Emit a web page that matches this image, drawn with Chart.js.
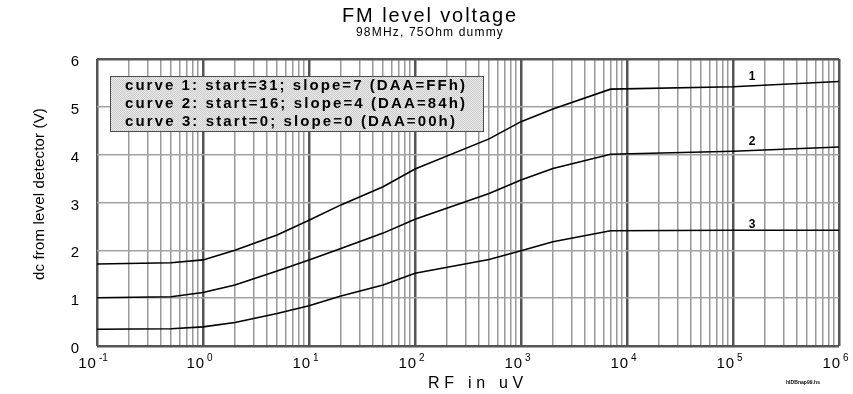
<!DOCTYPE html>
<html>
<head>
<meta charset="utf-8">
<script src="https://cdn.jsdelivr.net/npm/chart.js@4.4.1/dist/chart.umd.min.js"></script>
<style>
  html, body { margin: 0; padding: 0; background: #fff; }
  #wrap { width: 853px; height: 394px; }
</style>
</head>
<body>
<div id="wrap"><canvas id="fmChart" width="853" height="394"></canvas></div>
<script>
// RF input (uV) and detector output (V) for the three DAA settings
const rfInput = [0.1, 0.5, 1, 2, 5, 10, 20, 50, 100, 500, 1000, 2000, 7000, 1e5, 1e6];
const curve1 = [1.715, 1.74, 1.80, 2.00, 2.32, 2.63, 2.95, 3.33, 3.70, 4.33, 4.69, 4.955, 5.37, 5.42, 5.53];
const curve2 = [1.01, 1.03, 1.12, 1.275, 1.57, 1.80, 2.04, 2.36, 2.65, 3.19, 3.47, 3.71, 4.01, 4.07, 4.16];
const curve3 = [0.35, 0.36, 0.40, 0.49, 0.68, 0.84, 1.045, 1.275, 1.52, 1.81, 1.99, 2.18, 2.41, 2.42, 2.42];

const curveNames = ["1", "2", "3"];
const legendLines = [
  "curve 1: start=31; slope=7 (DAA=FFh)",
  "curve 2: start=16; slope=4 (DAA=84h)",
  "curve 3: start=0; slope=0 (DAA=00h)"
];
const xDecades = [-1, 0, 1, 2, 3, 4, 5, 6];
const yTicks = [0, 1, 2, 3, 4, 5, 6];

const FONT = "'Liberation Sans', Arial, sans-serif";

// every 1..9 x 10^k line for the log grid
const logGrid = [];
xDecades.forEach(e => {
  for (let m = 1; m <= 9; m++) {
    if (e === 6 && m > 1) break;
    logGrid.push(+(m * Math.pow(10, e)).toPrecision(3));
  }
});
const isDecade = v => Math.abs(Math.log10(v) - Math.round(Math.log10(v))) < 1e-6;

const toPoints = ys => ys.map((y, i) => ({ x: rfInput[i], y }));

// draw text stretched to a given width with letter spacing
function spacedText(ctx, text, x, y, width, align) {
  ctx.letterSpacing = "0px";
  const w = ctx.measureText(text).width;
  const sp = width ? Math.max(0, (width - w) / text.length) : 0;
  ctx.letterSpacing = sp + "px";
  const total = w + sp * text.length;
  let sx = x;
  if (align === "center") sx = x - total / 2;
  else if (align === "right") sx = x - total;
  ctx.textAlign = "left";
  ctx.fillText(text, sx, y);
  ctx.letterSpacing = "0px";
}

let dotPattern = null;
function getPattern(ctx) {
  if (dotPattern) return dotPattern;
  const c = document.createElement("canvas");
  c.width = 2; c.height = 2;
  const p = c.getContext("2d");
  p.fillStyle = "#c9c9c9"; p.fillRect(0, 0, 2, 2);
  p.fillStyle = "#ececec"; p.fillRect(1, 0, 1, 1); p.fillRect(0, 1, 1, 1);
  dotPattern = ctx.createPattern(c, "repeat");
  return dotPattern;
}

const decorations = {
  id: "decorations",
  afterDatasetsDraw(chart) {
    const { ctx, scales } = chart;
    const xs = scales.x, ys = scales.y;
    ctx.save();
    ctx.fillStyle = "#000";
    ctx.textBaseline = "middle";

    // titles
    ctx.font = "20px " + FONT;
    spacedText(ctx, "FM level voltage", 430, 16, 176, "center");
    ctx.font = "12px " + FONT;
    spacedText(ctx, "98MHz, 75Ohm dummy", 430, 33, 148, "center");

    // legend box
    const bx = 110, by = 76, bw = 374, bh = 56;
    ctx.fillStyle = getPattern(ctx);
    ctx.fillRect(bx, by, bw, bh);
    ctx.strokeStyle = "#4a4a4a";
    ctx.lineWidth = 1;
    ctx.strokeRect(bx + 0.5, by + 0.5, bw - 1, bh - 1);
    ctx.fillStyle = "#000";
    ctx.font = "bold 15px " + FONT;
    legendLines.forEach((t, i) => {
      spacedText(ctx, t, 125, 86 + i * 18, 342 - (i === 2 ? 10 : 0), "left");
    });

    // y tick labels
    ctx.font = "15px " + FONT;
    yTicks.forEach(v => {
      spacedText(ctx, String(v), 75, ys.getPixelForValue(v) + 3, 0, "center");
    });

    // x tick labels, 10 with raised exponent
    xDecades.forEach(e => {
      const px = xs.getPixelForValue(Math.pow(10, e));
      ctx.font = "15px " + FONT;
      ctx.letterSpacing = "1px";
      const base = "10";
      const bw2 = ctx.measureText(base).width;
      ctx.font = "10px " + FONT;
      const exp = String(e);
      const ew = ctx.measureText(exp).width;
      const start = px - (bw2 + 2 + ew) / 2 - 3;
      ctx.font = "15px " + FONT;
      ctx.textAlign = "left";
      ctx.fillText(base, start, 364);
      ctx.font = "10px " + FONT;
      ctx.letterSpacing = "0px";
      ctx.fillText(exp, start + bw2 + 2, 358);
    });

    // axis titles
    ctx.font = "16px " + FONT;
    spacedText(ctx, "RF in uV", 478, 384, 100, "center");
    ctx.save();
    ctx.translate(40, 194);
    ctx.rotate(-Math.PI / 2);
    ctx.font = "15px 'Liberation Sans Narrow', " + FONT;
    spacedText(ctx, "dc from level detector (V)", 0, 0, 172, "center");
    ctx.restore();

    // curve numbers
    ctx.font = "bold 12px " + FONT;
    const lx = 752;
    const offsets = [-10, -10, -6];
    [curve1, curve2, curve3].forEach((d, i) => {
      const y = ys.getPixelForValue(d[d.length - 2]) + offsets[i];
      spacedText(ctx, curveNames[i], lx, y, 0, "center");
    });

    // small signature at the bottom right
    ctx.font = "bold 5px " + FONT;
    spacedText(ctx, "hlDBnap99.hs", 803, 383, 34, "center");
    ctx.restore();
  }
};

const lineStyle = {
  borderColor: "#000",
  borderWidth: 1.6,
  pointRadius: 0,
  tension: 0,
  fill: false
};

new Chart(document.getElementById("fmChart"), {
  type: "line",
  data: {
    datasets: [
      { label: "curve 1", data: toPoints(curve1), ...lineStyle },
      { label: "curve 2", data: toPoints(curve2), ...lineStyle },
      { label: "curve 3", data: toPoints(curve3), ...lineStyle }
    ]
  },
  options: {
    responsive: false,
    animation: false,
    layout: { padding: { left: 97, right: 14, top: 59, bottom: 48 } },
    scales: {
      x: {
        type: "logarithmic",
        min: 0.1,
        max: 1e6,
        afterBuildTicks: s => { s.ticks = logGrid.map(v => ({ value: v })); },
        afterFit: s => { s.height = 0; },
        ticks: { display: false },
        border: { display: false },
        grid: {
          drawTicks: false,
          color: c => isDecade(c.tick.value) ? "#555" : "#999",
          lineWidth: c => isDecade(c.tick.value) ? 2.5 : 1.5
        }
      },
      y: {
        min: 0,
        max: 6,
        afterBuildTicks: s => { s.ticks = yTicks.map(v => ({ value: v })); },
        afterFit: s => { s.width = 0; },
        ticks: { display: false },
        border: { display: false },
        grid: {
          drawTicks: false,
          color: c => (c.tick.value === 0 || c.tick.value === 6) ? "#555" : "#a2a2a2",
          lineWidth: c => (c.tick.value === 0 || c.tick.value === 6) ? 2.5 : 1.5
        }
      }
    },
    plugins: {
      legend: { display: false },
      tooltip: { enabled: false }
    }
  },
  plugins: [decorations]
});
</script>
</body>
</html>
